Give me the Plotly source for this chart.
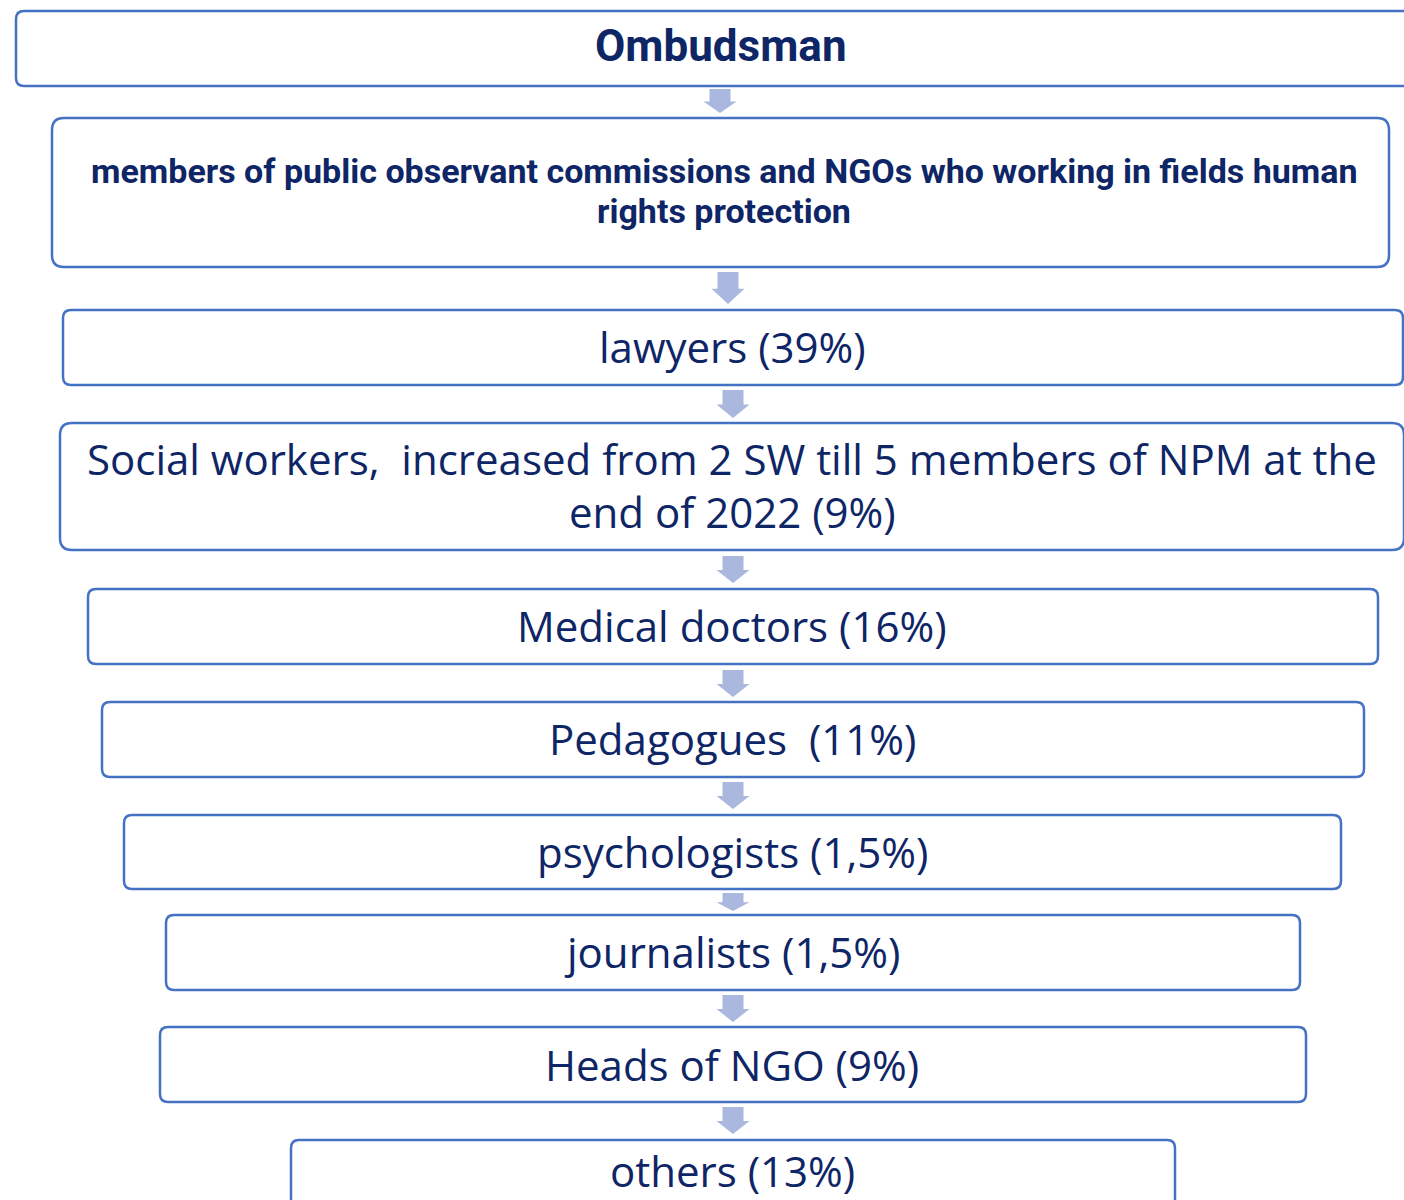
import plotly.graph_objects as go

# ---- data (labels of the flow) ----
labels = [
    "Ombudsman",
    "members of public observant commissions and NGOs who working in fields human<br>rights protection",
    "lawyers (39%)",
    "Social workers,  increased from 2 SW till 5 members of NPM at the<br>end of 2022 (9%)",
    "Medical doctors (16%)",
    "Pedagogues  (11%)",
    "psychologists (1,5%)",
    "journalists (1,5%)",
    "Heads of NGO (9%)",
    "others (13%)",
]
bold_flags = [True, True, False, False, False, False, False, False, False, False]

# ---- layout geometry (pixels) ----
boxes = [
    (16, 11, 1420, 86, 8),
    (52, 118, 1389, 267, 12),
    (63, 310, 1403, 385, 8),
    (60, 423, 1404, 550, 12),
    (88, 589, 1378, 664, 8),
    (102, 702, 1364, 777, 8),
    (124, 815, 1341, 889, 8),
    (166, 915, 1300, 990, 8),
    (160, 1027, 1306, 1102, 8),
    (291, 1140, 1175, 1230, 8),
]
text_pos = [  # x centre, y of first line
    (721, 46), (724, 171), (732, 346), (732, 458), (732, 625),
    (732, 738), (732, 851), (732, 951), (732, 1064), (732, 1170),
]
line_gap = [0, 40, 0, 53, 0, 0, 0, 0, 0, 0]
font_sizes = [44, 34, 42, 42, 42, 42, 42, 42, 42, 42]
arrows = [  # cx, top, bottom
    (720, 89, 113), (728, 272, 304), (733, 390, 418), (733, 556, 583),
    (733, 670, 697), (733, 782, 809), (733, 893, 911), (733, 995, 1022),
    (733, 1107, 1134),
]

BORDER = "#4472C4"
ARROW = "#AAB8DF"
TEXT = "#0E2566"


def rrect(x0, y0, x1, y1, r):
    return (f"M {x0+r},{y0} L {x1-r},{y0} Q {x1},{y0} {x1},{y0+r} "
            f"L {x1},{y1-r} Q {x1},{y1} {x1-r},{y1} L {x0+r},{y1} "
            f"Q {x0},{y1} {x0},{y1-r} L {x0},{y0+r} Q {x0},{y0} {x0+r},{y0} Z")


def arrow_path(cx, top, bot):
    L = bot - top
    head = top + 0.52 * L
    sw = 10.5
    hw = 16.5
    return (f"M {cx-sw},{top} L {cx+sw},{top} L {cx+sw},{head} L {cx+hw},{head} "
            f"L {cx},{bot} L {cx-hw},{head} L {cx-sw},{head} Z")


fig = go.Figure()
fig.add_trace(go.Scatter(x=[0, 1404], y=[0, 1200], mode="markers",
                         marker=dict(opacity=0), hoverinfo="skip", showlegend=False))

shapes = []
for (x0, y0, x1, y1, r) in boxes:
    shapes.append(dict(type="path", path=rrect(x0, y0, x1, y1, r), xref="x", yref="y",
                       line=dict(color=BORDER, width=2.5), fillcolor="white", layer="above"))
for (cx, t, b) in arrows:
    shapes.append(dict(type="path", path=arrow_path(cx, t, b), xref="x", yref="y",
                       line=dict(width=0), fillcolor=ARROW, layer="above"))

annotations = []
for lab, (tx, ty), bold, gap, fs in zip(labels, text_pos, bold_flags, line_gap, font_sizes):
    if bold:
        font = dict(family="Liberation Sans Narrow, Roboto, sans-serif",
                    size=fs, color=TEXT, weight="bold")
    else:
        font = dict(family="Open Sans, Noto Sans, sans-serif", size=fs, color=TEXT)
    for i, line in enumerate(lab.split("<br>")):
        annotations.append(dict(x=tx, y=ty + i * gap, xref="x", yref="y", text=line,
                                showarrow=False, font=font, xanchor="center",
                                yanchor="middle", align="center"))

fig.update_layout(
    width=1404, height=1200,
    margin=dict(l=0, r=0, t=0, b=0),
    paper_bgcolor="white", plot_bgcolor="white",
    xaxis=dict(range=[0, 1404], visible=False, fixedrange=True),
    yaxis=dict(range=[1200, 0], visible=False, fixedrange=True),
    shapes=shapes, annotations=annotations,
)
fig.write_html("out.html", config={"displayModeBar": False, "staticPlot": True},
               post_script="document.body.style.margin='0px';document.body.style.overflow='hidden';")
